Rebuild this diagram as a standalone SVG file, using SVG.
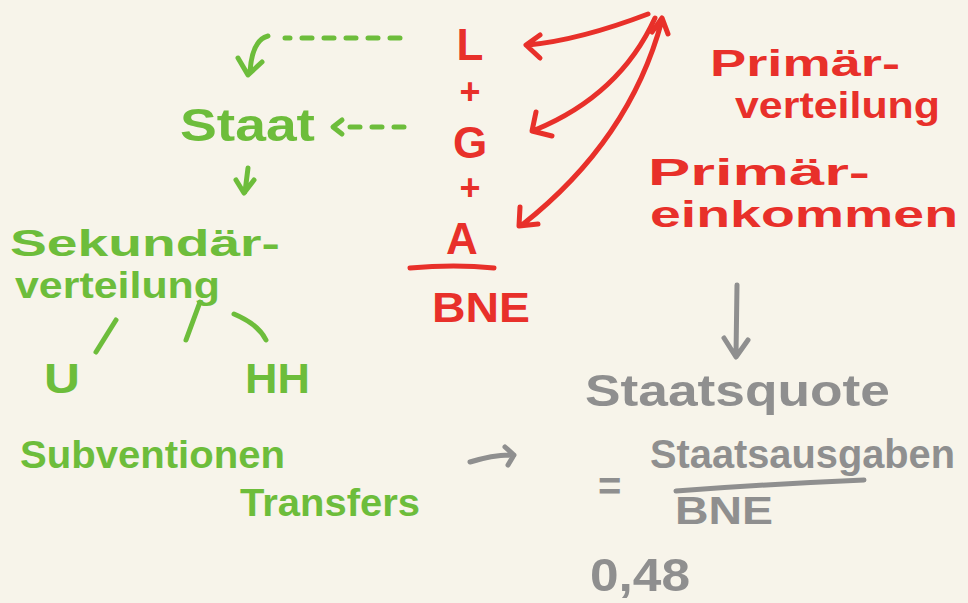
<svg xmlns="http://www.w3.org/2000/svg" width="968" height="603" viewBox="0 0 968 603">
<style>
text{font-family:"Liberation Sans","DejaVu Sans",sans-serif;font-weight:bold}
.r{fill:#e8302a}.g{fill:#6dbd3b}.k{fill:#8f8f8f}
.rs{stroke:#e8302a;fill:none;stroke-width:5;stroke-linecap:round;stroke-linejoin:round}
.gs{stroke:#6dbd3b;fill:none;stroke-width:5;stroke-linecap:round;stroke-linejoin:round}
.ks{stroke:#8f8f8f;fill:none;stroke-width:5;stroke-linecap:round;stroke-linejoin:round}
.d{stroke-dasharray:10 12}
</style>
<rect width="968" height="603" fill="#f7f4ea"/>
<g id="sum">
<text class="r" x="470" y="60" font-size="44" text-anchor="middle">L</text>
<text class="r" x="470" y="104" font-size="36" text-anchor="middle">+</text>
<text class="r" x="470" y="158" font-size="44" text-anchor="middle">G</text>
<text class="r" x="470" y="200" font-size="36" text-anchor="middle">+</text>
<text class="r" x="462" y="254" font-size="44" text-anchor="middle">A</text>
<text class="r" x="432" y="322" font-size="42" textLength="98" lengthAdjust="spacingAndGlyphs">BNE</text>
</g>
<g id="primaerverteilung">
<text class="r" x="710" y="76" font-size="36" textLength="190" lengthAdjust="spacingAndGlyphs">Primär-</text>
<text class="r" x="735" y="118" font-size="36" textLength="205" lengthAdjust="spacingAndGlyphs">verteilung</text>
</g>
<g id="primaereinkommen">
<text class="r" x="648" y="185" font-size="36" textLength="222" lengthAdjust="spacingAndGlyphs">Primär-</text>
<text class="r" x="650" y="227" font-size="36" textLength="308" lengthAdjust="spacingAndGlyphs">einkommen</text>
</g>
<g id="staat">
<text class="g" x="180" y="141" font-size="46" textLength="135" lengthAdjust="spacingAndGlyphs">Staat</text>
</g>
<g id="sekundaerverteilung">
<text class="g" x="10" y="256" font-size="36" textLength="270" lengthAdjust="spacingAndGlyphs">Sekundär-</text>
<text class="g" x="15" y="298" font-size="36" textLength="205" lengthAdjust="spacingAndGlyphs">verteilung</text>
</g>
<g id="u"><text class="g" x="44" y="393" font-size="42" textLength="36" lengthAdjust="spacingAndGlyphs">U</text></g>
<g id="hh"><text class="g" x="245" y="393" font-size="42" textLength="65" lengthAdjust="spacingAndGlyphs">HH</text></g>
<g id="subventionen"><text class="g" x="20" y="468" font-size="38" textLength="265" lengthAdjust="spacingAndGlyphs">Subventionen</text></g>
<g id="transfers"><text class="g" x="240" y="516" font-size="38" textLength="180" lengthAdjust="spacingAndGlyphs">Transfers</text></g>
<g id="staatsquote">
<text class="k" x="585" y="406" font-size="44" textLength="305" lengthAdjust="spacingAndGlyphs">Staatsquote</text>
<text class="k" x="598" y="500" font-size="40">=</text>
<text class="k" x="650" y="468" font-size="40" textLength="305" lengthAdjust="spacingAndGlyphs">Staatsausgaben</text>
<path class="ks" d="M676 491 Q770 484 864 480"/>
<text class="k" x="675" y="524" font-size="38" textLength="98" lengthAdjust="spacingAndGlyphs">BNE</text>
<text class="k" x="590" y="591" font-size="46" textLength="100" lengthAdjust="spacingAndGlyphs">0,48</text>
</g>
<g id="connectors">
<path class="rs" d="M410 268 Q455 264 494 268"/>
<path class="rs" d="M648 14 Q580 40 528 45 M540 35 L526 45 L540 58"/>
<path class="rs" d="M655 18 Q620 95 535 130 M536 112 L532 131 L552 136"/>
<path class="rs" d="M662 20 Q630 140 522 225 M520 207 L519 226 L538 224 M652 32 L662 18 L668 34"/>
<path class="gs d" d="M400 38 L285 38"/>
<path class="gs" d="M268 36 Q252 40 250 72 M238 58 L248 75 L262 62"/>
<path class="gs d" d="M404 127 L345 127"/>
<path class="gs" d="M342 120 L333 127 L342 134"/>
<path class="gs" d="M248 168 L245 192 M236 180 L244 193 L254 180"/>
<path class="gs" d="M116 320 L96 352"/>
<path class="gs" d="M200 302 L186 340" stroke-width="7"/>
<path class="gs" d="M234 314 Q258 324 266 340"/>
<path class="ks" d="M470 462 Q495 454 514 455 M505 447 L514 455 L508 465"/>
<path class="ks" d="M737 285 L736 355 M724 338 L736 357 L748 340"/>
</g>
</svg>
